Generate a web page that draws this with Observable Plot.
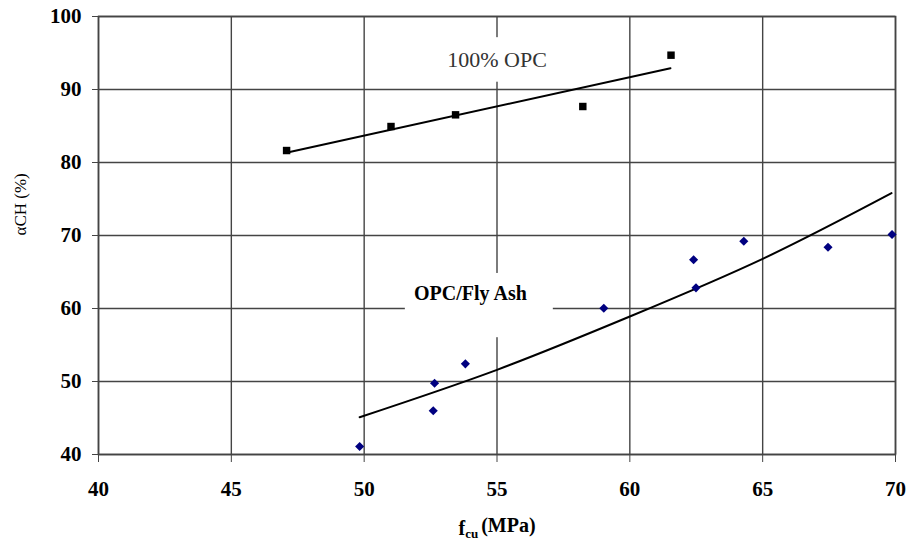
<!DOCTYPE html>
<html><head><meta charset="utf-8">
<script src="https://cdn.jsdelivr.net/npm/d3@7"></script>
<script src="https://cdn.jsdelivr.net/npm/@observablehq/plot@0.6"></script>
<style>body{margin:0;background:#fff}</style>
</head><body><div id="chart"></div>
<script>
// 100% OPC series
const opcX = [47.08, 51.01, 53.44, 58.23, 61.55];
const opcY = [81.64, 84.93, 86.53, 87.67, 94.70];
// OPC trend line
const opcTrendX = [47.11, 61.53];
const opcTrendY = [81.37, 92.92];
// OPC/Fly Ash series
const faX = [49.83, 52.60, 52.65, 53.81, 59.02, 62.40, 62.49, 64.29, 67.46, 69.87];
const faY = [41.10, 46.00, 49.77, 52.42, 60.04, 66.67, 62.83, 69.22, 68.40, 70.14];
// OPC/Fly Ash trend curve
const faTrendX = [49.83, 55, 60, 65, 69.85];
const faTrendY = [45.11, 51.6, 58.9, 66.8, 75.8];
// ticks
const xTicks = [40, 45, 50, 55, 60, 65, 70];
const yTicks = [40, 50, 60, 70, 80, 90, 100];
// annotation labels
const opcLabel = "100% OPC";
const opcLabelX = [55.0];
const opcLabelY = [94.1];
const faLabel = "OPC/Fly Ash";
const faLabelX = [54.0];
const faLabelY = [62.05];
const boxX1 = [53.0, 51.55];
const boxX2 = [57.7, 57.12];
const boxY1 = [91.0, 56.0];
const boxY2 = [97.1, 64.8];

const opc = opcX.map((x, i) => ({x, y: opcY[i]}));
const opcTrend = opcTrendX.map((x, i) => ({x, y: opcTrendY[i]}));
const fa = faX.map((x, i) => ({x, y: faY[i]}));
const faTrend = faTrendX.map((x, i) => ({x, y: faTrendY[i]}));
const boxes = boxX1.map((x1, i) => ({x1, x2: boxX2[i], y1: boxY1[i], y2: boxY2[i]}));

const font = "Liberation Serif, Times New Roman, serif";
const gridColor = "#444";

const svg = Plot.plot({
  width: 909,
  height: 548,
  marginLeft: 98,
  marginRight: 14,
  marginTop: 16,
  marginBottom: 94,
  style: {fontFamily: font, background: "#fff", color: "#000"},
  x: {domain: [40, 70]},
  y: {domain: [40, 100]},
  marks: [
    Plot.gridX(xTicks, {stroke: gridColor, strokeOpacity: 1, strokeWidth: 1.4}),
    Plot.gridY(yTicks, {stroke: gridColor, strokeOpacity: 1, strokeWidth: 1.4}),
    Plot.frame({stroke: gridColor, strokeWidth: 1.6}),
    Plot.axisX(xTicks, {tickSize: 8, tickPadding: 19, fontSize: 21, fontWeight: "bold", fontFamily: font, stroke: gridColor, label: null, tickFormat: d => String(d)}),
    Plot.axisY(yTicks, {tickSize: 6, tickPadding: 11, fontSize: 21, fontWeight: "bold", fontFamily: font, stroke: gridColor, label: null, tickFormat: d => String(d)}),
    Plot.rect(boxes, {x1: "x1", x2: "x2", y1: "y1", y2: "y2", fill: "white"}),
    Plot.text(opcLabelX, {x: d => d, y: (d, i) => opcLabelY[i], text: () => opcLabel, fontSize: 22, fill: "#333", fontFamily: font}),
    Plot.text(faLabelX, {x: d => d, y: (d, i) => faLabelY[i], text: () => faLabel, fontSize: 20, fontWeight: "bold", fill: "#000", fontFamily: font}),
    Plot.line(opcTrend, {x: "x", y: "y", stroke: "#000", strokeWidth: 2}),
    Plot.line(faTrend, {x: "x", y: "y", stroke: "#000", strokeWidth: 2, curve: "natural"}),
    Plot.dot(opc, {x: "x", y: "y", symbol: "square", r: 4.2, fill: "#000", stroke: "none"}),
    Plot.dot(fa, {x: "x", y: "y", symbol: "diamond2", r: 4.1, fill: "#000080", stroke: "none"}),
    Plot.text(["αCH (%)"], {frameAnchor: "left", dx: -78, rotate: -90, fontSize: 17, fill: "#000", fontFamily: font}),
    Plot.text(["fcu (MPa)"], {frameAnchor: "bottom", dy: 80, fontSize: 20, fontWeight: "bold", fill: "#000", fontFamily: font})
  ]
});

// subscript for the x label
d3.select(svg).selectAll("text").filter(function() { return this.textContent === "fcu (MPa)"; })
  .each(function() {
    const t = d3.select(this);
    t.text(null);
    t.append("tspan").text("f");
    t.append("tspan").attr("font-size", 13).attr("dy", "0.3em").text("cu");
    t.append("tspan").attr("dy", "-0.3em").attr("dx", "3").text("(MPa)");
  });

document.getElementById("chart").append(svg);
</script>
</body></html>
